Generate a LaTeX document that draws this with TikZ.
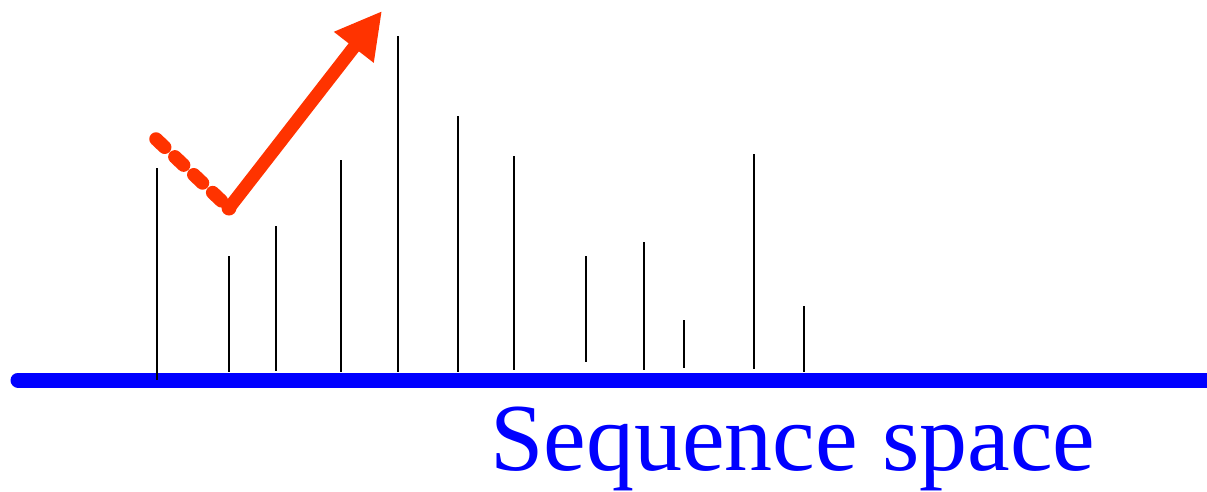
\documentclass[tikz,border=0pt]{standalone}
\usepackage{fontspec}
\setmainfont{Liberation Serif}
\usetikzlibrary{arrows.meta}
\definecolor{axisblue}{RGB}{0,0,255}
\definecolor{arrowred}{RGB}{255,51,0}
\tikzset{
  spike/.style={black, line width=1.7pt},
  axis/.style={axisblue, line width=15pt, line cap=round},
  pathdash/.style={arrowred, line width=13.5pt, line cap=round, dash pattern=on 12pt off 14pt},
  pathsolid/.style={arrowred, line width=13pt, -{Triangle[length=46pt,width=47pt]}},
}
\begin{document}
\begin{tikzpicture}[x=1pt,y=-1pt]
\useasboundingbox (0,0) rectangle (1207,491);
\draw[axis] (18,380) -- (1225,380);
\foreach \x/\t/\b in {157/168/380, 229/256/372, 276/226/371, 341/160/372, 398/36/372, 458/116/372, 514/156/370, 586/256/362, 644/242/370, 684/320/368, 754/154/369, 804/306/372}
  \draw[spike] (\x,\t) -- (\x,\b);
\coordinate (start) at (156,139);
\coordinate (turn) at (229,208);
\coordinate (tip) at (382,11);
\draw[pathdash] (start) -- (turn);
\fill[arrowred] (turn) circle (7.5pt);
\draw[pathsolid] (turn) -- (tip);
\node[anchor=base west, inner sep=0pt, text=axisblue, font=\fontsize{96}{100}\selectfont] (label) at (490,470) {Sequence space};
\end{tikzpicture}
\end{document}
